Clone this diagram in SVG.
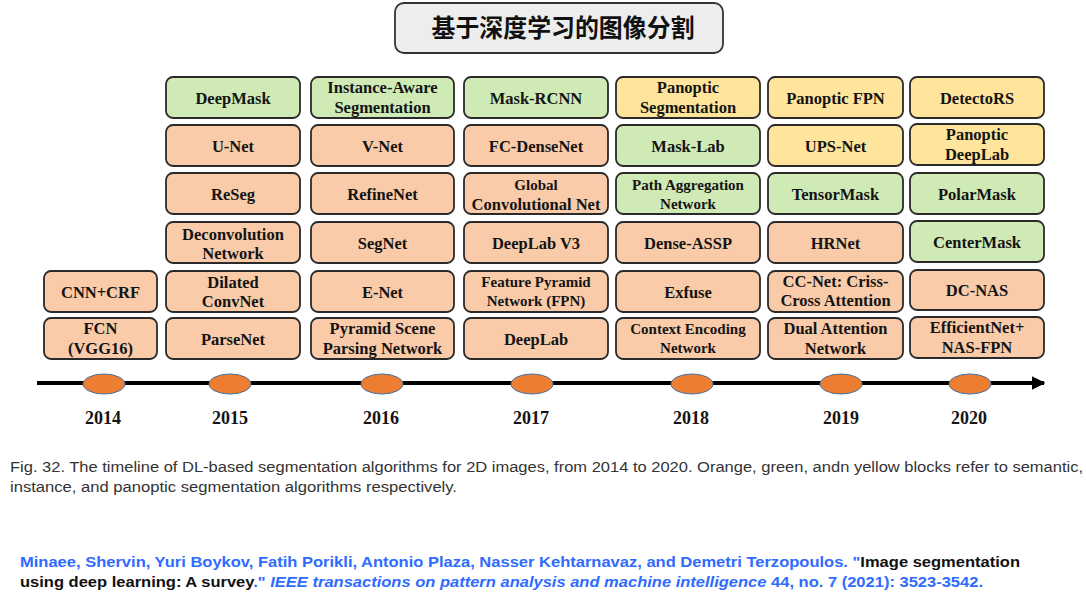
<svg xmlns="http://www.w3.org/2000/svg" width="1086" height="597" viewBox="0 0 1086 597">
<style>
.b{stroke:#2a2a2a;stroke-width:1.8}
.o{fill:#F9CBA9}
.g{fill:#CFEAB5}
.y{fill:#FFE59B}
.t{font-family:"Liberation Serif","Times New Roman",serif;font-weight:bold;font-size:16.5px;fill:#141414;text-anchor:middle}
.s{font-size:15px}
.yr{font-family:"Liberation Serif","Times New Roman",serif;font-weight:bold;font-size:18px;fill:#141414;text-anchor:middle}
.dot{fill:#ED7D31;stroke:#4472A8;stroke-width:1}
.cap{font-family:"Liberation Sans",Arial,sans-serif;font-size:14px;fill:#333}
.cit{font-family:"Liberation Sans",Arial,sans-serif;font-weight:bold;font-size:14.8px;fill:#2F6BFF}
.k{fill:#111}
.i{font-style:italic}
</style>
<defs>
<marker id="arr" viewBox="0 0 10 10" refX="9" refY="5" markerWidth="3.4" markerHeight="3.4" orient="auto" markerUnits="strokeWidth"><path d="M0,0 L10,5 L0,10 z" fill="#000"/></marker>
</defs>
<rect width="1086" height="597" fill="#fff"/>
<g id="title">
<rect x="395" y="3" width="328" height="50" rx="9" fill="#EDEDED" stroke="#333" stroke-width="1.8"/>
<text x="563" y="37" font-family="'Noto Sans CJK SC','Noto Sans CJK JP',sans-serif" font-weight="bold" font-size="25" text-anchor="middle" fill="#111" textLength="263" lengthAdjust="spacingAndGlyphs">基于深度学习的图像分割</text>
</g>
<g id="connectors">
<line x1="37" y1="383" x2="1044" y2="383" stroke="#000" stroke-width="4" marker-end="url(#arr)"/>
</g>
<g id="timeline-dots">
<ellipse class="dot" cx="104" cy="384" rx="21" ry="10"/>
<ellipse class="dot" cx="230" cy="384" rx="21" ry="10"/>
<ellipse class="dot" cx="382" cy="384" rx="21" ry="10"/>
<ellipse class="dot" cx="532" cy="384" rx="21" ry="10"/>
<ellipse class="dot" cx="692" cy="384" rx="21" ry="10"/>
<ellipse class="dot" cx="841" cy="384" rx="21" ry="10"/>
<ellipse class="dot" cx="970" cy="384" rx="21" ry="10"/>
</g>
<g id="years">
<text class="yr" x="103" y="424">2014</text>
<text class="yr" x="230" y="424">2015</text>
<text class="yr" x="381" y="424">2016</text>
<text class="yr" x="531" y="424">2017</text>
<text class="yr" x="691" y="424">2018</text>
<text class="yr" x="841" y="424">2019</text>
<text class="yr" x="969" y="424">2020</text>
</g>
<!-- 2014 -->
<g id="n-cnncrf"><rect class="b o" x="44" y="271" width="113" height="41" rx="7"/><text class="t" x="100.5" y="297.5">CNN+CRF</text></g>
<g id="n-fcn"><rect class="b o" x="44" y="318" width="113" height="41" rx="7"/><text class="t" x="100.5" y="334">FCN</text><text class="t" x="100.5" y="354">(VGG16)</text></g>
<!-- 2015 -->
<g id="n-deepmask"><rect class="b g" x="166" y="77" width="134" height="41" rx="7"/><text class="t" x="233" y="103.5">DeepMask</text></g>
<g id="n-unet"><rect class="b o" x="166" y="125" width="134" height="41" rx="7"/><text class="t" x="233" y="151.5">U-Net</text></g>
<g id="n-reseg"><rect class="b o" x="166" y="173" width="134" height="41" rx="7"/><text class="t" x="233" y="199.5">ReSeg</text></g>
<g id="n-deconv"><rect class="b o" x="166" y="222" width="134" height="41" rx="7"/><text class="t" x="233" y="240">Deconvolution</text><text class="t" x="233" y="259">Network</text></g>
<g id="n-dilated"><rect class="b o" x="166" y="271" width="134" height="41" rx="7"/><text class="t" x="233" y="288">Dilated</text><text class="t" x="233" y="307">ConvNet</text></g>
<g id="n-parsenet"><rect class="b o" x="166" y="318" width="134" height="41" rx="7"/><text class="t" x="233" y="344.5">ParseNet</text></g>
<!-- 2016 -->
<g id="n-instaware"><rect class="b g" x="311" y="77" width="143" height="41" rx="7"/><text class="t" x="382.5" y="93">Instance-Aware</text><text class="t" x="382.5" y="113">Segmentation</text></g>
<g id="n-vnet"><rect class="b o" x="311" y="125" width="143" height="41" rx="7"/><text class="t" x="382.5" y="151.5">V-Net</text></g>
<g id="n-refinenet"><rect class="b o" x="311" y="173" width="143" height="41" rx="7"/><text class="t" x="382.5" y="199.5">RefineNet</text></g>
<g id="n-segnet"><rect class="b o" x="311" y="222" width="143" height="41" rx="7"/><text class="t" x="382.5" y="248.5">SegNet</text></g>
<g id="n-enet"><rect class="b o" x="311" y="271" width="143" height="41" rx="7"/><text class="t" x="382.5" y="297.5">E-Net</text></g>
<g id="n-pspnet"><rect class="b o" x="311" y="318" width="143" height="41" rx="7"/><text class="t" x="382.5" y="334">Pyramid Scene</text><text class="t" x="382.5" y="354">Parsing Network</text></g>
<!-- 2017 -->
<g id="n-maskrcnn"><rect class="b g" x="464" y="77" width="144" height="41" rx="7"/><text class="t" x="536" y="103.5">Mask-RCNN</text></g>
<g id="n-fcdensenet"><rect class="b o" x="464" y="125" width="144" height="41" rx="7"/><text class="t" x="536" y="151.5">FC-DenseNet</text></g>
<g id="n-gcn"><rect class="b o" x="464" y="173" width="144" height="41" rx="7"/><text class="t s" x="536" y="190">Global</text><text class="t" x="536" y="210">Convolutional Net</text></g>
<g id="n-deeplabv3"><rect class="b o" x="464" y="222" width="144" height="41" rx="7"/><text class="t" x="536" y="248.5">DeepLab V3</text></g>
<g id="n-fpn"><rect class="b o" x="464" y="271" width="144" height="41" rx="7"/><text class="t s" x="536" y="287">Feature Pyramid</text><text class="t s" x="536" y="306">Network (FPN)</text></g>
<g id="n-deeplab"><rect class="b o" x="464" y="318" width="144" height="41" rx="7"/><text class="t" x="536" y="344.5">DeepLab</text></g>
<!-- 2018 -->
<g id="n-panseg"><rect class="b y" x="616" y="77" width="144" height="41" rx="7"/><text class="t" x="688" y="93">Panoptic</text><text class="t" x="688" y="113">Segmentation</text></g>
<g id="n-masklab"><rect class="b g" x="616" y="125" width="144" height="41" rx="7"/><text class="t" x="688" y="151.5">Mask-Lab</text></g>
<g id="n-panet"><rect class="b g" x="616" y="173" width="144" height="41" rx="7"/><text class="t s" x="688" y="190">Path Aggregation</text><text class="t s" x="688" y="209">Network</text></g>
<g id="n-denseassp"><rect class="b o" x="616" y="222" width="144" height="41" rx="7"/><text class="t" x="688" y="248.5">Dense-ASSP</text></g>
<g id="n-exfuse"><rect class="b o" x="616" y="271" width="144" height="41" rx="7"/><text class="t" x="688" y="297.5">Exfuse</text></g>
<g id="n-encnet"><rect class="b o" x="616" y="318" width="144" height="41" rx="7"/><text class="t s" x="688" y="334">Context Encoding</text><text class="t s" x="688" y="353">Network</text></g>
<!-- 2019 -->
<g id="n-panfpn"><rect class="b y" x="768" y="77" width="135" height="41" rx="7"/><text class="t" x="835.5" y="103.5">Panoptic FPN</text></g>
<g id="n-upsnet"><rect class="b y" x="768" y="125" width="135" height="41" rx="7"/><text class="t" x="835.5" y="151.5">UPS-Net</text></g>
<g id="n-tensormask"><rect class="b g" x="768" y="173" width="135" height="41" rx="7"/><text class="t" x="835.5" y="199.5">TensorMask</text></g>
<g id="n-hrnet"><rect class="b o" x="768" y="222" width="135" height="41" rx="7"/><text class="t" x="835.5" y="248.5">HRNet</text></g>
<g id="n-ccnet"><rect class="b o" x="768" y="271" width="135" height="41" rx="7"/><text class="t" x="835.5" y="287">CC-Net: Criss-</text><text class="t" x="835.5" y="306">Cross Attention</text></g>
<g id="n-danet"><rect class="b o" x="768" y="318" width="135" height="41" rx="7"/><text class="t" x="835.5" y="334">Dual Attention</text><text class="t" x="835.5" y="354">Network</text></g>
<!-- 2020 -->
<g id="n-detectors"><rect class="b y" x="910" y="77" width="134" height="41" rx="7"/><text class="t" x="977" y="103.5">DetectoRS</text></g>
<g id="n-pandeeplab"><rect class="b y" x="910" y="124" width="134" height="41" rx="7"/><text class="t" x="977" y="140">Panoptic</text><text class="t" x="977" y="160">DeepLab</text></g>
<g id="n-polarmask"><rect class="b g" x="910" y="173" width="134" height="41" rx="7"/><text class="t" x="977" y="199.5">PolarMask</text></g>
<g id="n-centermask"><rect class="b g" x="910" y="221" width="134" height="41" rx="7"/><text class="t" x="977" y="247.5">CenterMask</text></g>
<g id="n-dcnas"><rect class="b o" x="910" y="270" width="134" height="40" rx="7"/><text class="t" x="977" y="296">DC-NAS</text></g>
<g id="n-effnet"><rect class="b o" x="910" y="317" width="134" height="41" rx="7"/><text class="t" x="977" y="333">EfficientNet+</text><text class="t" x="977" y="353">NAS-FPN</text></g>
<g id="caption">
<text class="cap" x="10" y="472" textLength="1073" lengthAdjust="spacingAndGlyphs">Fig. 32. The timeline of DL-based segmentation algorithms for 2D images, from 2014 to 2020. Orange, green, andn yellow blocks refer to semantic,</text>
<text class="cap" x="10" y="492" textLength="447" lengthAdjust="spacingAndGlyphs">instance, and panoptic segmentation algorithms respectively.</text>
</g>
<g id="citation">
<text class="cit" x="20" y="567" textLength="1000" lengthAdjust="spacingAndGlyphs">Minaee, Shervin, Yuri Boykov, Fatih Porikli, Antonio Plaza, Nasser Kehtarnavaz, and Demetri Terzopoulos. "<tspan class="k">Image segmentation</tspan></text>
<text class="cit" x="20" y="587" textLength="963" lengthAdjust="spacingAndGlyphs"><tspan class="k">using deep learning: A survey</tspan>." <tspan class="i">IEEE transactions on pattern analysis and machine intelligence</tspan> 44, no. 7 (2021): 3523-3542.</text>
</g>
</svg>
